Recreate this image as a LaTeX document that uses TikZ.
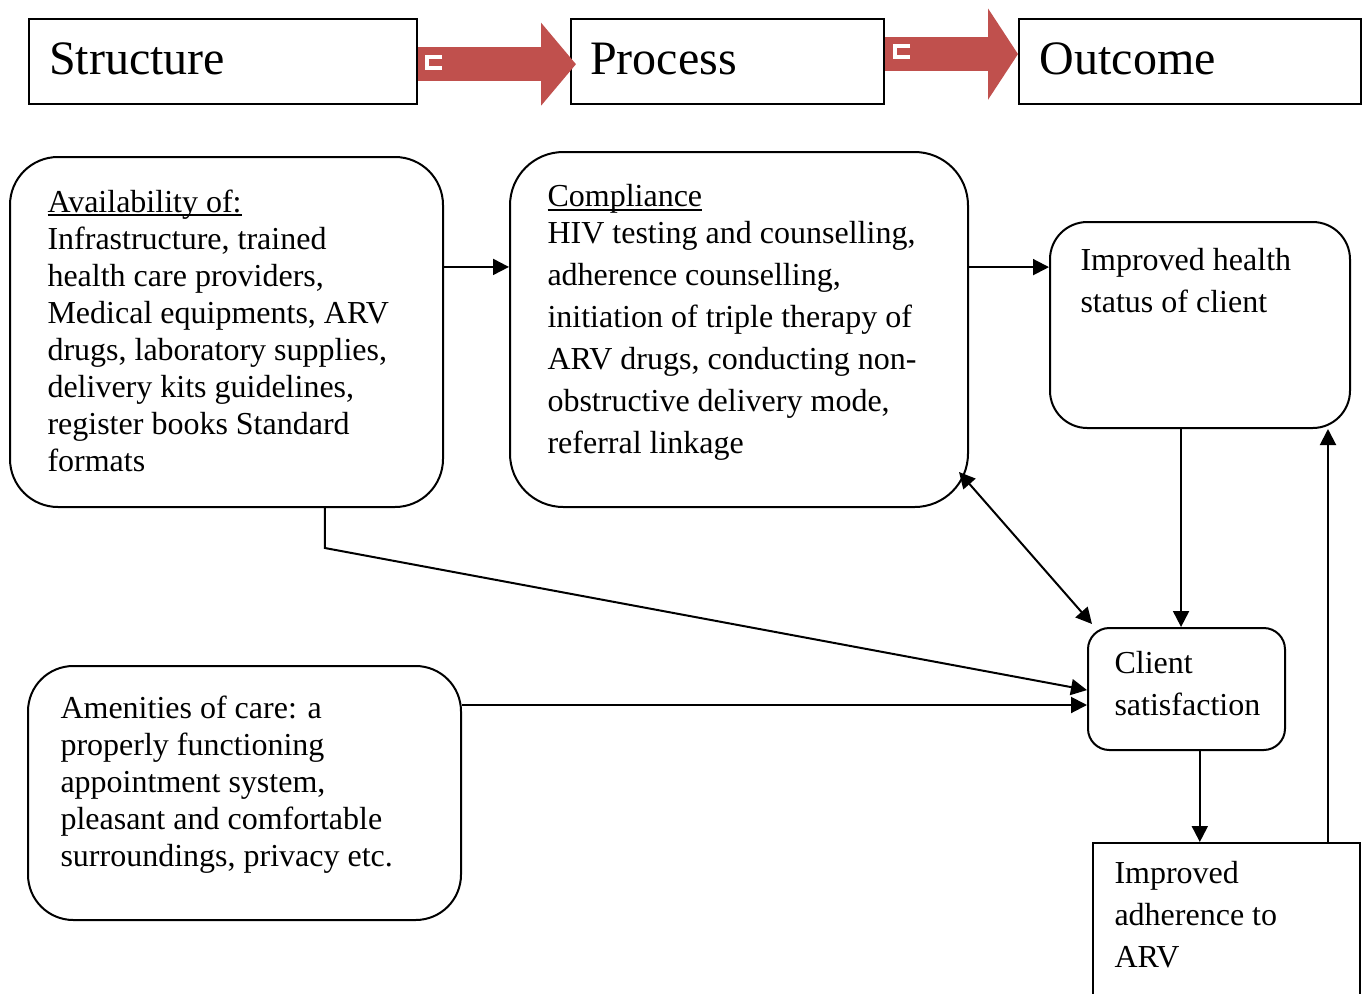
\documentclass[tikz,border=0pt]{standalone}
\usepackage{fontspec}
\setmainfont{Liberation Serif}
\usetikzlibrary{arrows.meta,positioning,fit,calc}
\definecolor{BlockRed}{HTML}{C0504D}
\newcommand\ulin[1]{\setbox0\hbox{#1}\rlap{\rule[-1.5pt]{\wd0}{0.7pt}}#1}

\tikzset{
  box/.style={draw,line width=0.75pt,inner sep=0pt},
  rbox/.style={box,rounded corners=#1},
  titlebox/.style={box,anchor=north west,minimum height=31.9pt,align=left,
    text height=12.5pt,text depth=3pt,font=\fontsize{18}{20}\selectfont},
  txt/.style={anchor=north west,inner sep=0pt,align=left,font=\fontsize{12}{13.9}\selectfont},
  wtxt/.style={txt,font=\fontsize{12}{15.75}\selectfont},
  conn/.style={line width=0.75pt,-{Triangle[length=6pt,width=6pt]}},
  dconn/.style={line width=0.75pt,{Triangle[length=6pt,width=6pt]}-{Triangle[length=6pt,width=6pt]}},
  bigarrow/.style={BlockRed,line width=12.6pt}
}

\begin{document}
\begin{tikzpicture}[x=0.375pt,y=-0.375pt,line join=miter]
  \useasboundingbox (0,0) rectangle (1363,994);
  \clip (0,0) rectangle (1363,994);
  % headings
  \node[titlebox,inner xsep=7.6pt,text width=130.3pt] (struct) at (28,18) {Structure};
  \node[titlebox,inner xsep=7.2pt,text width=103pt] (proc) at (570,18) {Process};
  \node[titlebox,inner xsep=7.8pt,text width=112.6pt] (out) at (1018,18) {Outcome};
  \draw[bigarrow,-{Triangle[length=13.1pt,width=30.4pt]},shorten >=-2.25pt]
    ([yshift=-1pt]struct.east) -- ([yshift=-1pt]proc.west);
  \draw[bigarrow,-{Triangle[length=11.25pt,width=33.75pt]}]
    ([yshift=2.8pt]proc.east) -- ([yshift=2.8pt]out.west);
  \draw[white,line width=1.4pt] (442,57) -- (427,57) -- (427,68) -- (442,68);
  \draw[white,line width=1.4pt] (910,46) -- (895,46) -- (895,57) -- (910,57);
  % boxes
  \node[rbox=18pt,fit={(10,157) (443,507)}] (avail) {};
  \node[rbox=20pt,fit={(510,152) (968,507)}] (comp) {};
  \node[rbox=14pt,fit={(1050,222) (1350,428)}] (health) {};
  \node[rbox=8pt,fit={(1088,628) (1285,750)}] (client) {};
  \node[rbox=17pt,fit={(28,666) (461,920)}] (amen) {};
  \node[box,fit={(1093,843) (1360,1010)}] (adh) {};
  % texts
  \node[txt] (availtxt) at (47,189) {\ulin{Availability of:}\\ Infrastructure, trained\\ health care providers,\\ Medical equipments, ARV\\ drugs, laboratory supplies,\\ delivery kits guidelines,\\ register books Standard\\ formats};
  \node[wtxt] (comptxt) at (547,184) {\ulin{Compliance}\\[-1.85pt] HIV testing and counselling,\\ adherence counselling,\\ initiation of triple therapy of\\ ARV drugs, conducting non-\\ obstructive delivery mode,\\ referral linkage};
  \node[wtxt] (healthtxt) at (1080,248) {Improved health\\ status of client};
  \node[wtxt] (clienttxt) at (1114,651) {Client\\ satisfaction};
  \node[txt] (amentxt) at (60,695) {Amenities of care: a\\ properly functioning\\ appointment system,\\ pleasant and comfortable\\ surroundings, privacy etc.};
  \node[wtxt] (adhtxt) at (1114,861) {Improved\\ adherence to\\ ARV};
  % connectors
  \draw[conn] ([yshift=24.4pt]avail.east) -- ([yshift=24.4pt]avail.east -| comp.west);
  \draw[conn] ([yshift=23.4pt]comp.east) -- ([yshift=23.4pt]comp.east -| health.west);
  \draw[conn] ([xshift=-7.1pt]health.south) -- ([xshift=-7.1pt]health.south |- client.north);
  \draw[conn] ([xshift=48pt]health.south |- adh.north) -- ([xshift=48pt]health.south);
  \draw[conn] ([xshift=5pt]client.south) -- ([xshift=5pt]client.south |- adh.north);
  \draw[dconn] ($(comp.south east)+(-10,-36)$) -- ($(client.north west)+(5,-3)$);
  \draw[conn] ([xshift=36.9pt]avail.south) -- ++(0,40) -- ([yshift=-0.4pt]client.west);
  \draw[conn] ([yshift=-6pt]client.west -| amen.east) -- ([yshift=-6pt]client.west);
\end{tikzpicture}
\end{document}
